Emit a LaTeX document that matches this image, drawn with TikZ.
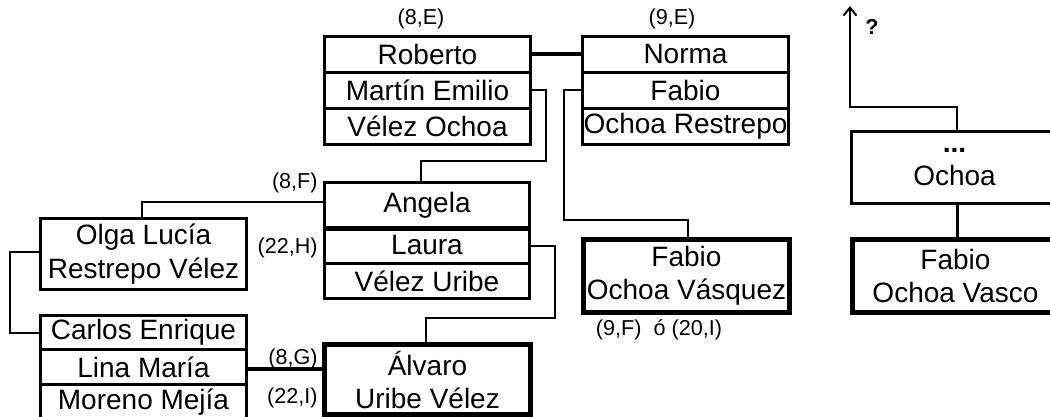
\documentclass[tikz,border=0pt]{standalone}
\usepackage{fontspec}
\setmainfont{Liberation Sans}
\usetikzlibrary{arrows.meta}
\newcommand\mainf{\fontsize{14}{16.5}\selectfont}
\newcommand\smallf{\fontsize{10.8}{12}\selectfont}
\begin{document}
\begin{tikzpicture}[x=0.5pt,y=-0.5pt,
  cell/.style={draw, line width=1.5pt, anchor=north west, inner sep=0pt, font=\mainf, align=center, minimum width=103pt, minimum height=18pt},
  heavy/.style={cell, line width=2.5pt},
  lbl/.style={font=\smallf, inner sep=0pt},
  link/.style={line width=1pt},
  bond/.style={line width=2pt}]
\useasboundingbox (0,0) rectangle (1050,417);
\clip (0,0) rectangle (1050,417);
% top left family box
\node[cell] (rob) at (323,35) {Roberto};
\node[cell] (mart) at (323,71) {Martín Emilio};
\node[cell] (velo) at (323,107) {Vélez Ochoa};
% top right family box
\node[cell] (norma) at (581,35) {Norma};
\node[cell] (fab) at (581,71) {Fabio};
\node[cell] (ochr) at (581,107) {Ochoa Restrepo};
% Angela
\node[cell, minimum width=102.5pt, minimum height=22.5pt] (ang) at (323,181) {Angela};
\node[cell, minimum width=102.5pt] (lau) at (323,226) {Laura};
\node[cell, minimum width=102.5pt, minimum height=17.5pt] (velu) at (323,262) {Vélez Uribe};
\draw[line width=2pt] (ang.south west) -- (ang.south east);
% Olga
\node[cell, minimum height=35.5pt, font={\fontsize{14}{17}\selectfont}] (olga) at (39,217) {Olga Lucía\\Restrepo Vélez};
% Carlos
\node[cell, minimum height=17pt] (carl) at (39,314) {Carlos Enrique};
\node[cell, minimum height=17.5pt] (lina) at (39,348) {Lina María};
\node[cell] (more) at (39,383) {Moreno Mejía};
% Alvaro
\node[heavy, minimum height=35pt] (alv) at (322,342) {Álvaro\\Uribe Vélez};
% Fabio Ochoa Vasquez
\node[heavy, minimum height=36.5pt] (fov) at (581,237) {Fabio\\Ochoa Vásquez};
% right side
\node[cell, minimum height=36pt] (och) at (850,130) {\textbf{...}\\Ochoa};
\node[heavy, minimum height=36.5pt] (fovs) at (850,237) {Fabio\\Ochoa Vasco};
% connectors
\draw[bond] (rob.east) -- (norma.west);
\coordinate (mA) at (546,161);
\coordinate (mB) at (421,161);
\draw[link] (mart.east) -| (mA) -- (mB) -- (mB |- ang.north);
\coordinate (fA) at (564,220);
\coordinate (fB) at (688,220);
\draw[link] (fab.west) -| (fA) -- (fB) -- (fB |- fov.north);
\coordinate (oA) at (142,202);
\draw[link] (oA |- olga.north) -- (oA) -- (oA -| ang.west);
\coordinate (cA) at (10,252);
\draw[link] (cA -| olga.west) -- (cA) |- (carl.west);
\coordinate (lnA) at (245,369);
\draw[bond] (lnA) -- (lnA -| alv.west);
\coordinate (lA) at (555,318);
\coordinate (lB) at (426,318);
\draw[link] (lau.east) -| (lA) -- (lB) -- (lB |- alv.north);
\coordinate (qA) at (957,107);
\coordinate (qB) at (850,107);
\coordinate (qT) at (850,6);
\draw[link, -{Straight Barb[length=4pt,width=6.5pt]}] (qA |- och.north) -- (qA) -- (qB) -- (qT);
\draw[line width=1.5pt] (och.south -| qA) -- (fovs.north -| qA);
% labels
\node[lbl, font=\smallf\bfseries] (qm) at (872,27) {?};
\node[lbl] (l8E) at (421,19) {(8,E)};
\node[lbl] (l9E) at (672,19) {(9,E)};
\node[lbl, anchor=east] (l8F) at (318,183) {(8,F)};
\node[lbl, anchor=east] (l22H) at (318,248) {(22,H)};
\node[lbl, anchor=east] (l8G) at (318,359) {(8,G)};
\node[lbl, anchor=east] (l22I) at (318,398) {(22,I)};
\node[lbl] (l9F) at (659,330) {(9,F)\hspace{6pt}ó (20,I)};
\end{tikzpicture}
\end{document}
